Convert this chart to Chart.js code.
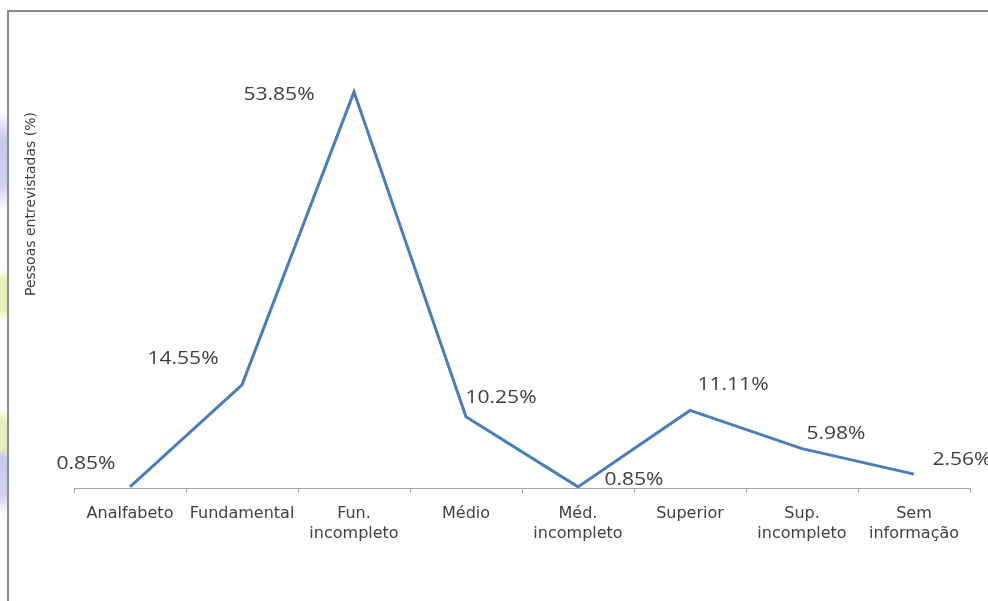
<!DOCTYPE html>
<html>
<head>
<meta charset="utf-8">
<script src="https://cdn.jsdelivr.net/npm/chart.js@4.4.1/dist/chart.umd.min.js"></script>
<style>
    html, body { margin: 0; padding: 0; background: #ffffff; }
    #wrap { position: relative; width: 988px; height: 601px; overflow: hidden; }
    #frame {
        position: absolute; left: 7px; top: 10px; right: -2px; bottom: -2px;
        border-top: 2px solid #8c8c8c; border-left: 2px solid #8c8c8c;
    }
    #deco {
        position: absolute; left: 0; top: 0; width: 7px; height: 601px;
        background: linear-gradient(to bottom,
            #ffffff 0px, #ffffff 110px, #c8c8ee 140px, #d0d0f0 185px, #ffffff 210px,
            #ffffff 270px, #e4f2b8 280px, #e4f2b8 310px, #ffffff 322px,
            #ffffff 410px, #e6f3c0 420px, #e6f3c0 448px, #c8c8ee 458px, #d2d2f0 495px, #ffffff 515px);
    }
    canvas { position: absolute; left: 0; top: 0; }
</style>
</head>
<body>
<div id="wrap">
    <div id="deco"></div>
    <div id="frame"></div>
    <canvas id="eduChart" width="988" height="601"></canvas>
</div>
<script>
// data
const categories = [
    'Analfabeto', 'Fundamental', ['Fun.', 'incompleto'], 'Médio',
    ['Méd.', 'incompleto'], 'Superior', ['Sup.', 'incompleto'], ['Sem', 'informação']
];
const percentages = [0.85, 14.55, 53.85, 10.25, 0.85, 11.11, 5.98, 2.56];
const yTitle = 'Pessoas entrevistadas (%)';

// label placement relative to each point (px), as in the original sheet
const labelOffsets = [
    [-44, -23], [-59, -26], [-75, 3], [35, -19],
    [56, -7], [43, -26], [34, -15], [48, -14]
];

const LINE_BLUE = '#4a7ebb';
const TEXT_GREY = '#404040';

const valueLabels = {
    id: 'valueLabels',
    afterDatasetsDraw(chart) {
        const ctx = chart.ctx;
        const meta = chart.getDatasetMeta(0);
        meta.data.forEach((pt, i) => {
            const off = labelOffsets[i];
            ctx.save();
            ctx.translate(pt.x + off[0], pt.y + off[1]);
            ctx.scale(1.17, 1); // the source image is a little stretched sideways
            ctx.font = '18px "Open Sans", sans-serif';
            ctx.fillStyle = TEXT_GREY;
            ctx.textAlign = 'center';
            ctx.textBaseline = 'middle';
            ctx.fillText(percentages[i].toFixed(2) + '%', 0, 0);
            ctx.restore();
        });
    }
};

const sideTitle = {
    id: 'sideTitle',
    afterDraw(chart) {
        const ctx = chart.ctx;
        ctx.save();
        ctx.translate(31, 204);
        ctx.rotate(-Math.PI / 2);
        ctx.font = '14px "DejaVu Sans", sans-serif';
        ctx.fillStyle = TEXT_GREY;
        ctx.textAlign = 'center';
        ctx.textBaseline = 'middle';
        ctx.fillText(yTitle, 0, 0);
        ctx.restore();
    }
};

new Chart(document.getElementById('eduChart').getContext('2d'), {
    type: 'line',
    data: {
        labels: categories,
        datasets: [{
            data: percentages,
            borderColor: LINE_BLUE,
            borderWidth: 3,
            pointRadius: 0,
            tension: 0,
            fill: false
        }]
    },
    options: {
        responsive: false,
        animation: false,
        layout: { padding: { left: 74, right: 18, top: 46, bottom: 0 } },
        plugins: {
            legend: { display: false },
            tooltip: { enabled: false }
        },
        scales: {
            x: {
                offset: true,
                afterFit: (scale) => { scale.height = 113; },
                border: { display: true, color: '#a6a6a6', width: 1 },
                grid: {
                    offset: true,
                    drawOnChartArea: false,
                    drawTicks: true,
                    tickLength: 5,
                    color: '#a6a6a6'
                },
                ticks: {
                    color: TEXT_GREY,
                    padding: 11,
                    maxRotation: 0,
                    autoSkip: false,
                    font: { family: '"DejaVu Sans", sans-serif', size: 16, lineHeight: 1.25 }
                }
            },
            y: {
                display: false,
                min: 0.7,
                max: 60
            }
        }
    },
    plugins: [valueLabels, sideTitle]
});
</script>
</body>
</html>
